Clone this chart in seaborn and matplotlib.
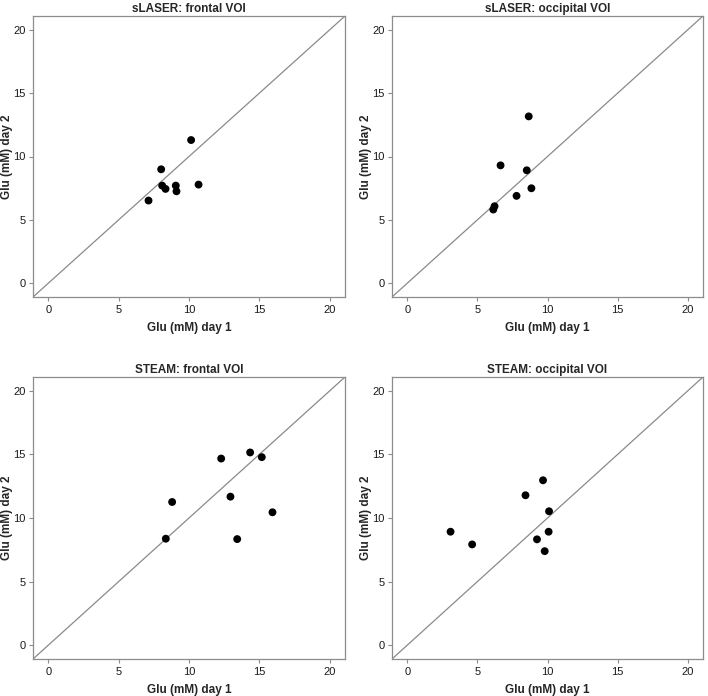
import matplotlib
matplotlib.use("Agg")
import matplotlib.pyplot as plt
import seaborn as sns
import pandas as pd

sns.set_style("white")
plt.rcParams['font.family'] = ['Liberation Sans', 'DejaVu Sans']

titles = ["sLASER: frontal VOI", "sLASER: occipital VOI", "STEAM: frontal VOI", "STEAM: occipital VOI"]

slaser_frontal_day1 = [7.12, 8.02, 8.09, 8.33, 9.06, 9.11, 10.15, 10.68]
slaser_frontal_day2 = [6.52, 8.99, 7.70, 7.44, 7.70, 7.25, 11.30, 7.78]

slaser_occipital_day1 = [6.13, 6.22, 6.65, 7.79, 8.52, 8.66, 8.85]
slaser_occipital_day2 = [5.81, 6.07, 9.30, 6.89, 8.91, 13.17, 7.49]

steam_frontal_day1 = [8.35, 8.80, 12.29, 12.95, 13.43, 14.35, 15.18, 15.94]
steam_frontal_day2 = [8.37, 11.26, 14.68, 11.68, 8.34, 15.16, 14.79, 10.45]

steam_occipital_day1 = [3.08, 4.62, 8.43, 9.25, 9.68, 9.80, 10.11, 10.08]
steam_occipital_day2 = [8.92, 7.92, 11.79, 8.32, 12.97, 7.39, 10.53, 8.92]

ticks = [0, 5, 10, 15, 20]
lim = (-1.1, 21.1)

data = [
    (slaser_frontal_day1, slaser_frontal_day2),
    (slaser_occipital_day1, slaser_occipital_day2),
    (steam_frontal_day1, steam_frontal_day2),
    (steam_occipital_day1, steam_occipital_day2),
]

W, H = 708, 696
fig = plt.figure(figsize=(W / 100, H / 100), dpi=100)
# axes boxes in pixels: left, right, top, bottom
boxes = [(33, 345, 16, 297), (392, 703, 16, 297), (33, 345, 377, 659), (392, 703, 377, 659)]

spine_col = "#8c8c8c"
for (x1, x2), title, (l, r, t, b) in zip(data, titles, boxes):
    ax = fig.add_axes([l / W, 1 - b / H, (r - l) / W, (b - t) / H])
    df = pd.DataFrame({"day1": x1, "day2": x2})
    ax.plot(lim, lim, color="#8a8a8a", lw=0.9, zorder=1)
    sns.scatterplot(data=df, x="day1", y="day2", ax=ax, color="black", s=32,
                    edgecolor="none", zorder=3)
    ax.set_xlim(lim)
    ax.set_ylim(lim)
    ax.set_xticks(ticks)
    ax.set_yticks(ticks)
    ax.tick_params(axis="both", direction="out", length=3, width=0.8, color=spine_col,
                   labelsize=8, labelcolor="#1a1a1a", pad=2.5, bottom=True, left=True)
    for sp in ax.spines.values():
        sp.set_color(spine_col)
        sp.set_linewidth(0.9)
    ax.set_xlabel("Glu (mM) day 1", fontsize=8.5, fontweight="bold", labelpad=5)
    ax.set_ylabel("Glu (mM) day 2", fontsize=8.5, fontweight="bold")
    ax.yaxis.set_label_coords(-19.5 / (r - l), 0.5)
    ax.set_title(title, fontsize=8.5, fontweight="bold", pad=3)

fig.savefig("out.png", dpi=100)
